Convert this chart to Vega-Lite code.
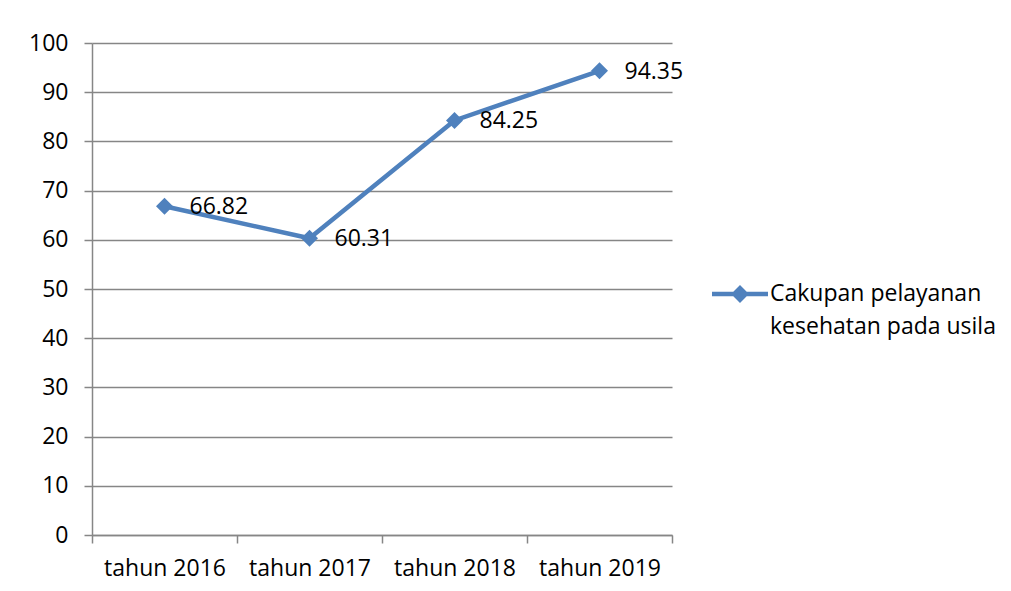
{
  "$schema": "https://vega.github.io/schema/vega-lite/v6.json",
  "width": 580,
  "height": 492,
  "autosize": {"type": "none"},
  "padding": {"left": 92, "top": 43, "right": 339, "bottom": 56},
  "background": "white",
  "config": {"view": {"stroke": null}, "font": "Open Sans"},
  "data": {
    "values": [
      {"tahun": "tahun 2016", "nilai": 66.82, "seri": "Cakupan pelayanan kesehatan pada usila"},
      {"tahun": "tahun 2017", "nilai": 60.31, "seri": "Cakupan pelayanan kesehatan pada usila"},
      {"tahun": "tahun 2018", "nilai": 84.25, "seri": "Cakupan pelayanan kesehatan pada usila"},
      {"tahun": "tahun 2019", "nilai": 94.35, "seri": "Cakupan pelayanan kesehatan pada usila"}
    ]
  },
  "encoding": {
    "x": {
      "field": "tahun", "type": "ordinal", "sort": null, "bandPosition": 0.5,
      "scale": {"type": "band", "paddingInner": 0, "paddingOuter": 0},
      "axis": {
        "title": null, "labelAngle": 0, "labelFontSize": 23, "labelColor": "black",
        "domainColor": "#868686", "domainWidth": 1.5, "tickColor": "#868686", "tickWidth": 1.5,
        "tickSize": 8, "tickBand": "extent", "labelPadding": 14, "grid": false
      }
    },
    "y": {
      "field": "nilai", "type": "quantitative",
      "scale": {"domain": [0, 100], "nice": false},
      "axis": {
        "title": null, "values": [0, 10, 20, 30, 40, 50, 60, 70, 80, 90, 100],
        "grid": true, "gridColor": "#868686", "gridWidth": 1.5,
        "domainColor": "#868686", "domainWidth": 1.5, "tickColor": "#868686", "tickWidth": 1.5,
        "tickSize": 8, "labelPadding": 16, "labelFontSize": 23, "labelColor": "black"
      }
    }
  },
  "layer": [
    {
      "mark": {"type": "line", "strokeWidth": 4.5, "color": "#4F81BD"},
      "encoding": {
        "color": {
          "field": "seri", "type": "nominal",
          "scale": {"range": ["#4F81BD"]},
          "legend": {
            "title": null, "orient": "none", "legendX": 620, "legendY": 223,
            "symbolType": "M-1,-0.08H1V0.08H-1Z M0,-0.32L0.32,0L0,0.32L-0.32,0Z",
            "symbolSize": 3136, "symbolFillColor": "#4F81BD", "symbolStrokeWidth": 0,
            "labelFontSize": 23, "labelColor": "black", "labelLimit": 0, "labelOffset": 2,
            "labelExpr": "['Cakupan pelayanan', 'kesehatan pada usila']",
            "encode": {
              "symbols": {"update": {"fill": {"value": "#4F81BD"}, "strokeWidth": {"value": 0}}},
              "labels": {"update": {"lineHeight": {"value": 33}}}
            }
          }
        }
      }
    },
    {
      "mark": {"type": "point", "shape": "diamond", "filled": true, "size": 290, "opacity": 1, "color": "#4F81BD"}
    },
    {
      "mark": {"type": "text", "align": "left", "baseline": "middle", "dx": 25, "dy": 1, "fontSize": 23, "color": "black"},
      "encoding": {"text": {"field": "nilai", "type": "quantitative", "format": ".2f"}}
    }
  ]
}
